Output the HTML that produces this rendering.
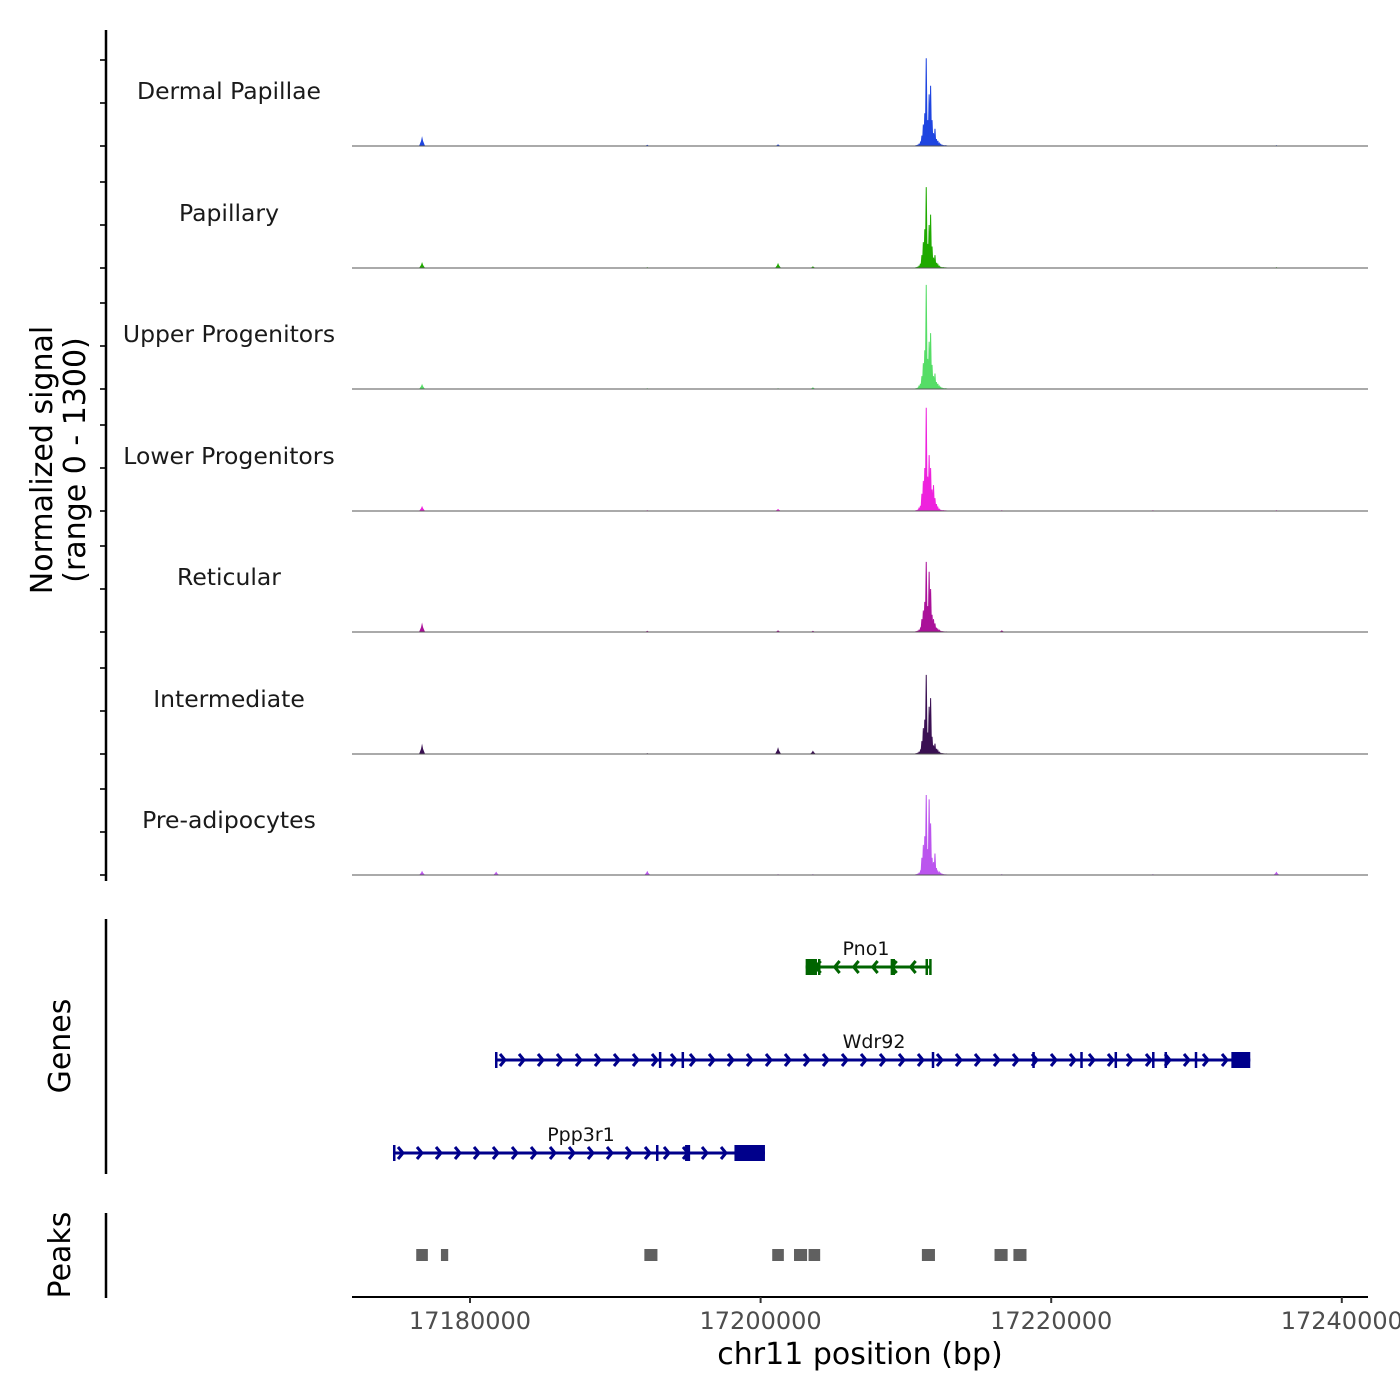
<!DOCTYPE html>
<html><head><meta charset="utf-8"><style>
html,body{margin:0;padding:0;background:#fff;}
svg{display:block;font-family:"DejaVu Sans","Liberation Sans",sans-serif;}
</style></head><body>
<svg id="chart" width="1400" height="1400" viewBox="0 0 1400 1400" xmlns="http://www.w3.org/2000/svg">
<rect x="0" y="0" width="1400" height="1400" fill="#fff"/>
<g id="signal"></g>
<g id="genes"></g>
<g id="peaks"></g>
<g id="axes"></g>
</svg>
<script>
// ---- data ----
const trackNames = ["Dermal Papillae","Papillary","Upper Progenitors","Lower Progenitors","Reticular","Intermediate","Pre-adipocytes"];
const trackColors = ["#1f45e0","#1faa00","#55dd66","#ee22dd","#aa1199","#3a1052","#bb55ee"];
const mainPos = [17210700,17210800,17210900,17211000,17211100,17211200,17211300,17211400,17211500,17211600,17211700,17211800,17211900,17212000,17212100,17212200,17212300,17212400,17212500,17212600,17212700,17212800];
const mainDP  = [5,10,20,40,120,250,380,1020,300,600,700,300,150,200,80,60,30,20,10,5,5,3];
const mainPap = [5,10,20,50,150,300,450,940,280,500,620,250,120,150,60,40,20,10,5,5,3,2];
const mainUp  = [5,10,30,60,150,300,450,1210,350,550,650,280,150,180,80,60,30,20,10,5,5,3];
const mainLow = [5,10,30,60,200,350,500,1200,400,650,500,250,300,150,80,40,20,10,5,5,3,2];
const mainRet = [5,10,20,40,150,250,350,815,300,700,500,200,150,100,50,30,20,10,5,3,2,2];
const mainInt = [5,10,20,40,150,300,400,920,250,550,650,200,100,120,60,40,20,10,5,3,2,2];
const mainPre = [5,10,20,40,200,350,450,930,300,880,600,200,150,250,80,40,30,20,10,5,3,2];
const smallPos = [17176700,17181800,17192200,17201200,17203600,17216600,17227000,17235500];
const smallDP  = [115,5,15,20,5,5,5,10];
const smallPap = [70,5,10,60,20,5,5,10];
const smallUp  = [60,5,10,10,20,5,5,5];
const smallLow = [60,5,10,25,5,10,10,10];
const smallRet = [110,5,15,20,15,20,5,5];
const smallInt = [120,5,10,80,40,5,5,5];
const smallPre = [50,40,50,10,10,10,10,40];
const xTicks = [17180000,17200000,17220000,17240000];
const yTicks = [0,500,1000];
const geneNames = ["Pno1","Wdr92","Ppp3r1"];
const geneStarts = [17203100,17181720,17174700];
const geneEnds = [17211650,17233700,17200300];
const geneStrand = [-1,1,1];
const pno1Exons = [[17203100,17203880],[17203950,17203990],[17208950,17209000],[17209080,17209200],[17211350,17211400],[17211600,17211650]];
const wdr92Exons = [[17181720,17181760],[17193000,17193080],[17194560,17194620],[17211780,17211880],[17218700,17218760],[17222000,17222060],[17224360,17224420],[17226940,17227000],[17227800,17227860],[17229880,17229940],[17232400,17233700]];
const ppp3r1Exons = [[17174700,17174740],[17192800,17192920],[17194800,17195150],[17198200,17200300]];
const peakStarts = [17176300,17178000,17192000,17200800,17202300,17203300,17211100,17216100,17217400];
const peakEnds   = [17177100,17178500,17192900,17201600,17203200,17204100,17212000,17217000,17218300];

// ---- scales ----
const X0=470, XS=14.53/1000;
const x = bp => X0 + (bp-17180000)*XS;
const PL=352, PR=1368;
const baselines=[146,268,389,511,632,754,875];
const yScale = v => v*0.086;
const NS="http://www.w3.org/2000/svg";
function mk(tag,attrs,parent){const e=document.createElementNS(NS,tag);for(const k in attrs)e.setAttribute(k,attrs[k]);parent.appendChild(e);return e;}

const sig=document.getElementById('signal');
const mains=[mainDP,mainPap,mainUp,mainLow,mainRet,mainInt,mainPre];
const smalls=[smallDP,smallPap,smallUp,smallLow,smallRet,smallInt,smallPre];
for(let t=0;t<7;t++){
  const b=baselines[t], c=trackColors[t];
  const g=mk('g',{},sig);
  
  
  const lab=mk('text',{x:229,y:b-47,'text-anchor':'middle','font-size':23.5,fill:'#1a1a1a'},g);
  lab.textContent=trackNames[t];
  
  
  let d='M'+x(mainPos[0]-50)+','+b;
  mainPos.forEach((p,i)=>{const h=yScale(mains[t][i]);d+=' L'+(x(p)-0.6)+','+(b-h*0.35)+' L'+x(p)+','+(b-h)+' L'+(x(p)+0.6)+','+(b-h*0.35);});
  d+=' L'+x(mainPos[mainPos.length-1]+50)+','+b+' Z';
  const pa=mk('path',{d:d,fill:c,stroke:c,'stroke-width':1},g);
  
  
  smallPos.forEach((p,i)=>{const h=yScale(smalls[t][i]);
    const s=mk('path',{d:`M${x(p)-3},${b} L${x(p)-1},${b-h*0.5} L${x(p)},${b-h} L${x(p)+1},${b-h*0.5} L${x(p)+3},${b} Z`,fill:c},g);
    
    
  });
  const bl=mk('line',{x1:PL,x2:PR,y1:b,y2:b,stroke:'#555','stroke-width':1},g);
  
  
  yTicks.forEach(v=>{const tk=mk('line',{x1:100,x2:106,y1:b-yScale(v),y2:b-yScale(v),stroke:'#333','stroke-width':2},g);
    
    });
}

// genes
const gg=document.getElementById('genes');
const geneY=[967,1060,1153], geneCols=['#006400','#00008b','#00008b'], geneExons=[pno1Exons,wdr92Exons,ppp3r1Exons];
const labelX=[866,874,581];
for(let i=0;i<3;i++){
  const y=geneY[i], c=geneCols[i];
  const g=mk('g',{},gg);
  
  
  const x1=x(geneStarts[i]), x2=x(geneEnds[i]);
  mk('line',{x1:x1,x2:x2,y1:y,y2:y,stroke:c,'stroke-width':3},g);
  for(let ax=x1+10;ax<x2-8;ax+=19){
    const s=geneStrand[i];
    mk('path',{d:`M${ax-5*s},${y-6} L${ax},${y} L${ax-5*s},${y+6}`,fill:'none',stroke:c,'stroke-width':3},g);
  }
  geneExons[i].forEach(e=>{const w=Math.max(x(e[1])-x(e[0]),2.5);const big=w>8;
    mk('rect',{x:x(e[0]),y:big?y-8:y-8,width:w,height:16,fill:c},g);});
  const t=mk('text',{x:labelX[i],y:y-12,'text-anchor':'middle','font-size':19,fill:'#111'},g);
  t.textContent=geneNames[i];
  
  
}

// peaks
const pg=document.getElementById('peaks');
peakStarts.forEach((s,i)=>{const r=mk('rect',{x:x(s),y:1249,width:x(peakEnds[i])-x(s),height:12,fill:'#606060'},pg);
  
  });

// axes
const ag=document.getElementById('axes');
function line(a,n){const l=mk('line',a,ag);return l;}
line({x1:106,x2:106,y1:30,y2:881,stroke:'#000','stroke-width':2.5},'signal-axis-line');
line({x1:106,x2:106,y1:919,y2:1174,stroke:'#000','stroke-width':2.5},'genes-axis-line');
line({x1:106,x2:106,y1:1213,y2:1298,stroke:'#000','stroke-width':2.5},'peaks-axis-line');
line({x1:352,x2:1368,y1:1297,y2:1297,stroke:'#000','stroke-width':2},'x-axis-line');
xTicks.forEach(v=>{line({x1:x(v),x2:x(v),y1:1297,y2:1303,stroke:'#333','stroke-width':2},'x-tick');
  const t=mk('text',{x:x(v),y:1329,'text-anchor':'middle','font-size':24,fill:'#4d4d4d'},ag);
  t.textContent=v;
  
  });
function txt(s,a,n){const t=mk('text',a,ag);t.textContent=s;}
txt('chr11 position (bp)',{x:860,y:1364,'text-anchor':'middle','font-size':30,fill:'#000'},'x-axis-title');
txt('Normalized signal',{x:0,y:0,transform:'translate(52,460) rotate(-90)','text-anchor':'middle','font-size':30,fill:'#000'},'y-axis-title');
txt('(range 0 - 1300)',{x:0,y:0,transform:'translate(85,460) rotate(-90)','text-anchor':'middle','font-size':30,fill:'#000'},'y-axis-range');
txt('Genes',{x:0,y:0,transform:'translate(70,1046) rotate(-90)','text-anchor':'middle','font-size':30,fill:'#000'},'genes-axis-title');
txt('Peaks',{x:0,y:0,transform:'translate(70,1255) rotate(-90)','text-anchor':'middle','font-size':30,fill:'#000'},'peaks-axis-title');
</script>
</body></html>
